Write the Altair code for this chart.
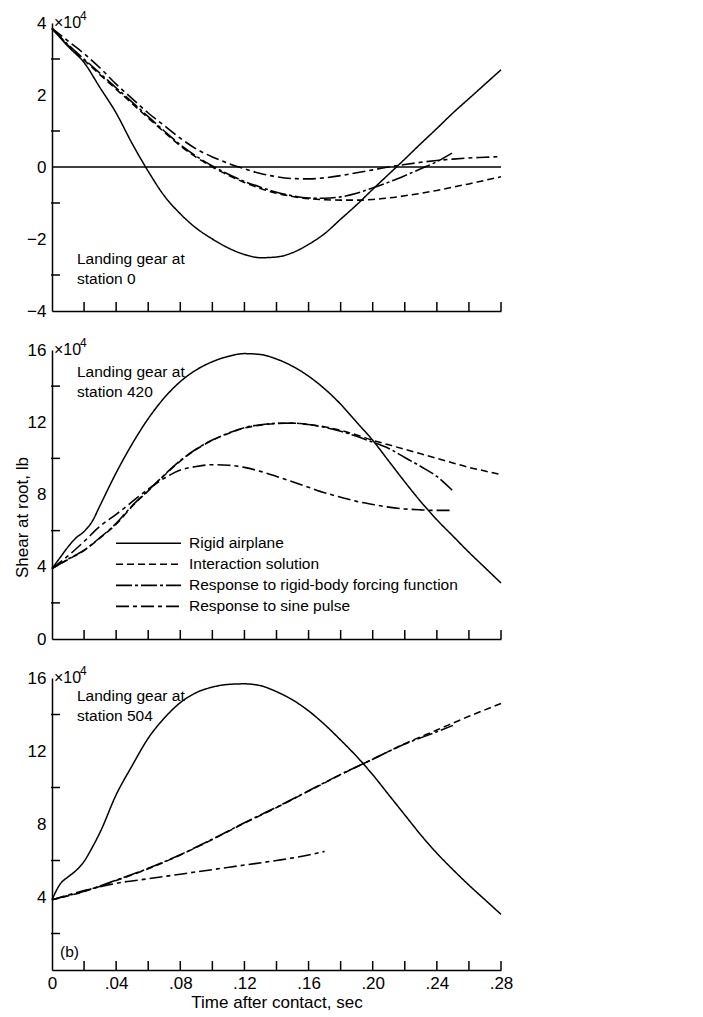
import altair as alt
import pandas as pd

FONT = "Liberation Sans, Arial, sans-serif"
FS = 15.5
SERIES = ["Rigid airplane", "Interaction solution",
          "Response to rigid-body forcing function", "Response to sine pulse"]
DASHES = [[1, 0], [7, 4], [16, 3, 3, 3], [13, 4, 4, 4]]
WIDTHS = [1.5, 1.6, 2.6, 1.6]

# ---------- time grids ----------
t_01_28 = [0.00, 0.01, 0.02, 0.03, 0.04, 0.05, 0.06, 0.07, 0.08, 0.09, 0.10,
           0.11, 0.12, 0.13, 0.14, 0.15, 0.16, 0.17, 0.18, 0.19, 0.20, 0.21,
           0.22, 0.23, 0.24, 0.25, 0.26, 0.27, 0.28]
t_01_25 = t_01_28[:26]
t_fine = [0.00, 0.005, 0.01, 0.015, 0.02, 0.025, 0.03, 0.04, 0.05, 0.06, 0.07,
          0.08, 0.09, 0.10, 0.11, 0.12, 0.13, 0.14, 0.15, 0.16, 0.17, 0.18,
          0.19, 0.20, 0.21, 0.22, 0.23, 0.24, 0.25, 0.26, 0.27, 0.28]
t_02_28 = [0.00, 0.02, 0.04, 0.06, 0.08, 0.10, 0.12, 0.14, 0.16, 0.18, 0.20,
           0.22, 0.24, 0.26, 0.28]
t_02_25 = [0.00, 0.02, 0.04, 0.06, 0.08, 0.10, 0.12, 0.14, 0.16, 0.18, 0.20,
           0.22, 0.24, 0.25]
t_sine3 = [0.00, 0.02, 0.04, 0.06, 0.08, 0.10, 0.12, 0.14, 0.16, 0.17]

# ---------- station 0 (x 1e4 lb) ----------
s0_rigid = [3.85, 3.35, 2.9, 2.2, 1.5, 0.65, -0.12, -0.8, -1.3, -1.7, -2.0,
            -2.25, -2.43, -2.52, -2.5, -2.38, -2.15, -1.85, -1.45, -1.05, -0.62,
            -0.2, 0.22, 0.65, 1.07, 1.5, 1.9, 2.3, 2.7]
s0_inter = [3.85, 3.38, 2.97, 2.56, 2.16, 1.76, 1.36, 0.97, 0.59, 0.27, 0.0,
            -0.23, -0.43, -0.6, -0.73, -0.82, -0.88, -0.91, -0.92, -0.92, -0.9,
            -0.86, -0.8, -0.73, -0.65, -0.56, -0.47, -0.37, -0.27]
s0_force = [3.85, 3.4, 3.0, 2.6, 2.2, 1.8, 1.4, 1.0, 0.62, 0.3, 0.03, -0.2,
            -0.4, -0.56, -0.7, -0.8, -0.86, -0.87, -0.83, -0.73, -0.58, -0.42,
            -0.24, -0.05, 0.15, 0.4]
s0_sine = [3.85, 3.5, 3.15, 2.75, 2.3, 1.9, 1.5, 1.15, 0.8, 0.5, 0.28, 0.1,
           -0.05, -0.18, -0.27, -0.32, -0.33, -0.3, -0.24, -0.16, -0.08, 0.0,
           0.07, 0.13, 0.18, 0.22, 0.25, 0.27, 0.29]

# ---------- station 420 ----------
s420_rigid = [3.9, 4.5, 5.1, 5.6, 5.95, 6.5, 7.4, 9.2, 10.8, 12.2, 13.35, 14.25,
              14.9, 15.35, 15.65, 15.8, 15.75, 15.5, 15.1, 14.55, 13.85, 13.0,
              12.0, 11.0, 9.85, 8.7, 7.6, 6.6, 5.7, 4.8, 3.95, 3.1]
s420_inter = [3.9, 4.4, 4.9, 5.6, 6.35, 7.35, 8.2, 9.05, 9.85, 10.5, 11.0,
              11.38, 11.68, 11.84, 11.93, 11.95, 11.88, 11.75, 11.55, 11.3,
              11.0, 10.75, 10.5, 10.25, 10.0, 9.75, 9.5, 9.3, 9.1]
s420_force = [3.9, 4.42, 4.92, 5.62, 6.4, 7.38, 8.22, 9.08, 9.88, 10.52, 11.02,
              11.4, 11.7, 11.86, 11.94, 11.95, 11.87, 11.72, 11.5, 11.22, 10.9,
              10.55, 10.05, 9.55, 9.0, 8.2]
s420_sine = [3.9, 4.6, 5.4, 6.25, 6.9, 7.6, 8.3, 8.9, 9.35, 9.55, 9.65, 9.62,
             9.5, 9.28, 9.0, 8.7, 8.4, 8.1, 7.85, 7.62, 7.45, 7.3, 7.2, 7.15,
             7.12, 7.12]

# ---------- station 504 ----------
s504_rigid = [3.85, 4.7, 5.1, 5.45, 5.95, 6.7, 7.55, 9.6, 11.2, 12.7, 13.8,
              14.65, 15.2, 15.5, 15.65, 15.68, 15.58, 15.25, 14.8, 14.2, 13.45,
              12.6, 11.7, 10.7, 9.6, 8.5, 7.4, 6.4, 5.5, 4.65, 3.85, 3.05]
s504_inter = [3.85, 4.3, 4.9, 5.55, 6.3, 7.15, 8.05, 8.9, 9.8, 10.7, 11.55,
              12.4, 13.15, 13.9, 14.6]
s504_force = [3.85, 4.32, 4.92, 5.57, 6.32, 7.17, 8.07, 8.92, 9.82, 10.72,
              11.55, 12.38, 13.05, 13.4]
s504_sine = [3.85, 4.35, 4.75, 5.0, 5.25, 5.5, 5.75, 6.0, 6.3, 6.5]

# ---------- axes ----------
x_labels = [0.0, 0.04, 0.08, 0.12, 0.16, 0.20, 0.24, 0.28]
x_minor = [0.02, 0.04, 0.06, 0.08, 0.10, 0.12, 0.14, 0.16, 0.18, 0.20, 0.22,
           0.24, 0.26, 0.28]
y0_labels = [-4, -2, 0, 2, 4]
y0_minor = [-3, -1, 1, 3]
y420_labels = [0, 4, 8, 12, 16]
y504_labels = [4, 8, 12, 16]
yb_minor = [2, 6, 10, 14]

notes0 = ["Landing gear at", "station 0"]
notes420 = ["Landing gear at", "station 420"]
notes504 = ["Landing gear at", "station 504"]
exp_text = "×10"
exp_sup = "4"
part_label = "(b)"
y_title = "Shear at root, lb"
x_title = "Time after contact, sec"

W = 449
XSCALE = alt.Scale(domain=[0, 0.28], nice=False, zero=False)


def frame(pairs):
    rows = []
    for name, ts, vs in pairs:
        for t, v in zip(ts, vs):
            rows.append({"t": t, "v": v, "series": name})
    return pd.DataFrame(rows)


def panel(df, ydom, ylabels, yminor, h, notes, notes_y, show_x, legend, ytitle,
          zero=False):
    yscale = alt.Scale(domain=ydom, nice=False, zero=False)
    if show_x:
        xaxis = alt.Axis(values=x_labels, labelExpr="datum.value == 0 ? '0' : replace(format(datum.value, '.2f'), '0.', '.')",
                         labelFlush=False, labelPadding=5, title=x_title,
                         titlePadding=3, ticks=False)
    else:
        xaxis = alt.Axis(labels=False, ticks=False, title=None, values=x_labels)
    if ytitle:
        yaxis = alt.Axis(values=ylabels, ticks=False, labelPadding=6,
                         title=ytitle, titleX=-30, titleY=167, titleAngle=270,
                         titleAlign="center", titleBaseline="middle")
    else:
        yaxis = alt.Axis(values=ylabels, ticks=False, labelPadding=6, title=None)

    if legend:
        leg = alt.Legend(title=None, orient="none", legendX=63, legendY=183,
                         symbolType="stroke", symbolSize=4225,
                         symbolStrokeColor="black", clipHeight=20.7,
                         labelFont=FONT, labelFontSize=FS, labelColor="black",
                         labelLimit=0, labelOffset=7, rowPadding=0, padding=0)
    else:
        leg = None

    X = alt.X("t:Q", scale=XSCALE, axis=xaxis)
    Y = alt.Y("v:Q", scale=yscale, axis=yaxis)
    lines = alt.Chart(df).mark_line(color="black", interpolate="monotone").encode(
        x=X, y=Y,
        strokeDash=alt.StrokeDash("series:N", scale=alt.Scale(domain=SERIES, range=DASHES), legend=leg),
        strokeWidth=alt.StrokeWidth("series:N", scale=alt.Scale(domain=SERIES, range=WIDTHS), legend=leg),
    )
    xt = alt.Chart(pd.DataFrame({"t": x_minor})).mark_rule(color="black", strokeWidth=1.5).encode(
        x=X, y=alt.value(h), y2=alt.value(h - 9))
    yt = alt.Chart(pd.DataFrame({"v": yminor})).mark_rule(color="black", strokeWidth=1.5).encode(
        y=Y, x=alt.value(-1), x2=alt.value(8))
    one = pd.DataFrame({"a": [0]})
    note = alt.Chart(one).mark_text(text=notes, align="left", baseline="top", font=FONT,
                                    fontSize=FS, lineHeight=20, color="black").encode(
        x=alt.value(25), y=alt.value(notes_y))
    e1 = alt.Chart(one).mark_text(text=exp_text, align="left", baseline="middle", font=FONT,
                                  fontSize=16, color="black").encode(x=alt.value(2), y=alt.value(0))
    e2 = alt.Chart(one).mark_text(text=exp_sup, align="left", baseline="middle", font=FONT,
                                  fontSize=12, color="black").encode(x=alt.value(28), y=alt.value(-7))
    layers = [lines, xt, yt, note, e1, e2]
    if zero:
        zl = alt.Chart(pd.DataFrame({"v": [0]})).mark_rule(color="black", strokeWidth=1.6).encode(
            y=Y, x=alt.value(0), x2=alt.value(W))
        layers.append(zl)
    return alt.layer(*layers).properties(width=W, height=h)


df0 = frame([(SERIES[0], t_01_28, s0_rigid), (SERIES[1], t_01_28, s0_inter),
             (SERIES[2], t_01_25, s0_force), (SERIES[3], t_01_28, s0_sine)])
df420 = frame([(SERIES[0], t_fine, s420_rigid), (SERIES[1], t_01_28, s420_inter),
               (SERIES[2], t_01_25, s420_force), (SERIES[3], t_01_25, s420_sine)])
df504 = frame([(SERIES[0], t_fine, s504_rigid), (SERIES[1], t_02_28, s504_inter),
               (SERIES[2], t_02_25, s504_force), (SERIES[3], t_sine3, s504_sine)])

p0 = panel(df0, [-4, 4], y0_labels, y0_minor, 288, notes0, 229, False, False, None, zero=True)
p420 = panel(df420, [0, 16], y420_labels, yb_minor, 289, notes420, 15, False, True, y_title)
pb = alt.Chart(pd.DataFrame({"a": [0]})).mark_text(text=part_label, align="left", baseline="middle",
                                                    font=FONT, fontSize=FS, color="black").encode(
    x=alt.value(8), y=alt.value(274))
p504 = alt.layer(panel(df504, [0, 16], y504_labels, yb_minor, 292, notes504, 11, True, False, None), pb)

chart = alt.vconcat(p0, p420, p504, spacing=18).resolve_scale(
    strokeDash="independent", strokeWidth="independent"
).resolve_legend(strokeDash="independent", strokeWidth="independent").properties(
    padding={"left": 5, "top": 2, "right": 5, "bottom": 2},
    background="white",
).configure_view(stroke=None).configure_axis(
    labelFont=FONT, labelFontSize=17, labelColor="black",
    titleFont=FONT, titleFontSize=17, titleColor="black", titleFontWeight="normal",
    domainColor="black", domainWidth=1.5, grid=False,
)

chart.save("out.html", embed_options={"renderer": "svg", "actions": False})
